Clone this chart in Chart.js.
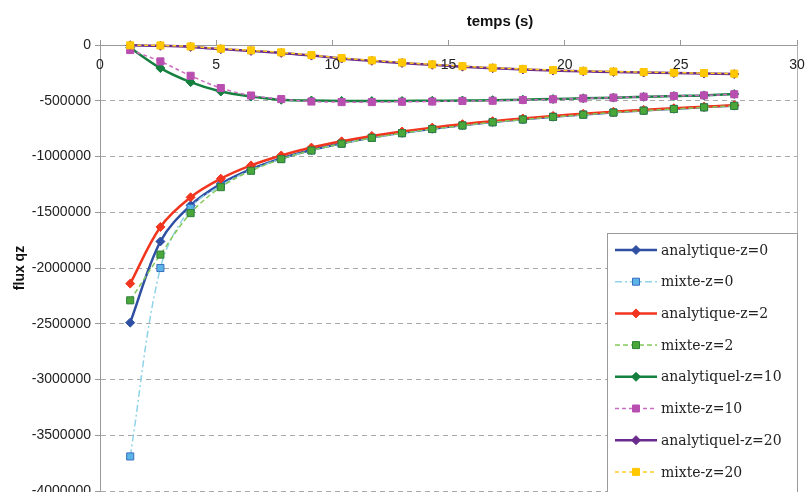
<!DOCTYPE html>
<html>
<head>
<meta charset="utf-8">
<script src="https://cdn.jsdelivr.net/npm/chart.js@4"></script>
<style>
  html, body { margin: 0; padding: 0; background: #fff; overflow: hidden; }
  #wrap { position: relative; width: 806px; height: 505px; }
</style>
</head>
<body>
<div id="wrap"><canvas id="fluxChart"></canvas></div>
<script>
// time values (s)
const temps = [1.3, 2.6, 3.9, 5.2, 6.5, 7.8, 9.1, 10.4, 11.7, 13, 14.3, 15.6, 16.9, 18.2, 19.5, 20.8, 22.1, 23.4, 24.7, 26, 27.3];

// flux qz per series
const analytiqueZ0 = [-2490000, -1762000, -1438000, -1246000, -1114000, -1017000, -941000, -881000, -830000, -788000, -751000, -719000, -691000, -666000, -643000, -623000, -604000, -587000, -572000, -557000, -544000];
const mixteZ0 = [-3690000, -2000000, -1462000, -1262000, -1122000, -1022000, -945000, -884000, -832000, -790000, -753000, -721000, -692000, -667000, -644000, -624000, -605000, -588000, -573000, -558000, -545000];
const analytiqueZ2 = [-2140000, -1632000, -1366000, -1199000, -1080000, -991000, -920000, -864000, -816000, -776000, -741000, -710000, -683000, -659000, -636000, -617000, -599000, -582000, -567000, -553000, -540000];
const mixteZ2 = [-2290000, -1880000, -1508000, -1275000, -1128000, -1024000, -946000, -885000, -833000, -791000, -754000, -722000, -693000, -668000, -645000, -625000, -606000, -589000, -574000, -559000, -546000];
const analytiqueZ10 = [-25000, -207000, -333000, -417000, -462000, -491000, -498000, -502000, -503000, -502000, -500000, -498000, -495000, -490000, -485000, -478000, -472000, -465000, -458000, -452000, -440000];
const mixteZ10 = [-45000, -147000, -276000, -386000, -453000, -485000, -507000, -512000, -512000, -509000, -507000, -502000, -500000, -493000, -487000, -479000, -472000, -464000, -457000, -452000, -442000];
const analytiqueZ20 = [-2000, -7000, -17000, -37000, -53000, -71000, -95000, -121000, -142000, -161000, -178000, -194000, -208000, -219000, -229000, -236000, -242000, -247000, -252000, -256000, -261000];
const mixteZ20 = [-3000, -4000, -13000, -33000, -48000, -66000, -90000, -117000, -138000, -157000, -174000, -190000, -204000, -215000, -225000, -232000, -238000, -243000, -248000, -252000, -257000];

// axis ranges
const fluxMin = -4000000;
const fluxMax = 0;
const fluxStep = 500000;
const tempsMin = 0;
const tempsMax = 30;
const tempsStep = 5;

const labels = ['analytique-z=0', 'mixte-z=0', 'analytique-z=2', 'mixte-z=2', 'analytiquel-z=10', 'mixte-z=10', 'analytiquel-z=20', 'mixte-z=20'];
const series = [analytiqueZ0, mixteZ0, analytiqueZ2, mixteZ2, analytiqueZ10, mixteZ10, analytiqueZ20, mixteZ20];

const styles = [
  { line: '#2f4fa3', bg: '#2f4fa3', border: '#2f4fa3', dash: [], width: 2.5, marker: 'diamond' },
  { line: '#8fd3e8', bg: '#5ab4e6', border: '#3a6cc0', dash: [7, 3, 2, 3], width: 1.5, marker: 'square' },
  { line: '#f2351f', bg: '#f2351f', border: '#f2351f', dash: [], width: 2.5, marker: 'diamond' },
  { line: '#86c95a', bg: '#4aa83a', border: '#2d7f3a', dash: [5, 3], width: 1.5, marker: 'square' },
  { line: '#15803f', bg: '#15803f', border: '#15803f', dash: [], width: 2.5, marker: 'diamond' },
  { line: '#cc6cc0', bg: '#b84fb0', border: '#b84fb0', dash: [4, 3], width: 1.5, marker: 'square' },
  { line: '#6a2c8c', bg: '#6a2c8c', border: '#6a2c8c', dash: [], width: 2.5, marker: 'diamond' },
  { line: '#ffcc22', bg: '#ffc800', border: '#ffc800', dash: [4, 3], width: 1.5, marker: 'square' }
];

const datasets = series.map((vals, i) => {
  const st = styles[i];
  return {
    label: labels[i],
    data: vals.map((v, k) => ({ x: temps[k], y: v })),
    borderColor: st.line,
    borderWidth: st.width,
    borderDash: st.dash,
    backgroundColor: st.bg,
    pointStyle: st.marker === 'diamond' ? 'rectRot' : 'rect',
    pointRadius: st.marker === 'diamond' ? 4.5 : 5,
    pointBackgroundColor: st.bg,
    pointBorderColor: st.border,
    pointBorderWidth: 1,
    tension: 0.35,
    clip: 10,
    order: series.length - i   // last series drawn on top, like the original
  };
});

function drawMarker(ctx, kind, x, y) {
  ctx.beginPath();
  if (kind === 'diamond') {
    ctx.moveTo(x, y - 4.5);
    ctx.lineTo(x + 4.5, y);
    ctx.lineTo(x, y + 4.5);
    ctx.lineTo(x - 4.5, y);
    ctx.closePath();
  } else {
    ctx.rect(x - 3.5, y - 3.5, 7, 7);
  }
  ctx.fill();
  ctx.stroke();
}

// x tick labels under the top axis, titles, right border and the boxed legend
const decorPlugin = {
  id: 'decor',
  afterDraw(chart) {
    const { ctx, chartArea } = chart;
    const xs = chart.scales.x;
    ctx.save();

    ctx.strokeStyle = '#b0b0b0';
    ctx.lineWidth = 1;
    ctx.setLineDash([]);
    ctx.beginPath();
    ctx.moveTo(Math.round(chartArea.right) + 0.5, chartArea.top);
    ctx.lineTo(Math.round(chartArea.right) + 0.5, chartArea.bottom);
    ctx.stroke();

    ctx.fillStyle = '#222';
    ctx.font = '14px "Liberation Sans", Arial, sans-serif';
    ctx.textAlign = 'center';
    ctx.textBaseline = 'middle';
    xs.ticks.forEach(t => {
      ctx.fillText(String(t.value), xs.getPixelForValue(t.value), chartArea.top + 20);
    });

    ctx.fillStyle = '#111';
    ctx.font = 'bold 15px "Liberation Sans", Arial, sans-serif';
    ctx.fillText('temps (s)', 500, 22);

    ctx.save();
    ctx.translate(20, 268);
    ctx.rotate(-Math.PI / 2);
    ctx.font = 'bold 14px "Liberation Sans", Arial, sans-serif';
    ctx.fillText('flux qz', 0, 0);
    ctx.restore();

    // legend box
    const bx = 607.5, by = 233.5, bw = 190, bh = 262;
    ctx.fillStyle = '#fff';
    ctx.fillRect(bx, by, bw, bh);
    ctx.strokeStyle = '#9a9a9a';
    ctx.strokeRect(bx, by, bw, bh);

    ctx.font = '14px "DejaVu Serif", serif';
    ctx.textAlign = 'left';
    chart.data.datasets.forEach((ds, i) => {
      const st = styles[i];
      const y = 250 + i * 31.7;
      ctx.strokeStyle = st.line;
      ctx.lineWidth = st.width;
      ctx.setLineDash(st.dash);
      ctx.beginPath();
      ctx.moveTo(615, y);
      ctx.lineTo(657, y);
      ctx.stroke();
      ctx.setLineDash([]);
      ctx.lineWidth = 1;
      ctx.fillStyle = st.bg;
      ctx.strokeStyle = st.border;
      drawMarker(ctx, st.marker, 636, y);
      ctx.fillStyle = '#222';
      ctx.fillText(ds.label, 661, y + 1);
    });

    ctx.restore();
  }
};

const tickFont = { family: '"Liberation Sans", Arial, sans-serif', size: 14 };

new Chart(document.getElementById('fluxChart'), {
  type: 'line',
  data: { datasets },
  options: {
    responsive: true,
    maintainAspectRatio: false,
    animation: false,
    layout: { padding: { top: 0, right: 9, bottom: 14, left: 0 } },
    plugins: {
      legend: { display: false },
      tooltip: { enabled: false }
    },
    scales: {
      x: {
        type: 'linear',
        position: 'top',
        min: tempsMin,
        max: tempsMax,
        ticks: { stepSize: tempsStep, display: false },
        grid: { drawOnChartArea: false, drawTicks: true, tickLength: 5, color: '#999' },
        border: { color: '#999' },
        afterFit(scale) { scale.height = 45; }
      },
      y: {
        min: fluxMin,
        max: fluxMax,
        ticks: { stepSize: fluxStep, padding: 4, color: '#222', font: tickFont, callback: v => String(v) },
        grid: { color: '#a8a8a8', tickColor: '#999', tickLength: 5, tickBorderDash: [] },
        border: { color: '#999', dash: [5, 4] },
        afterFit(scale) { scale.width = 100; }
      }
    }
  },
  plugins: [decorPlugin]
});
</script>
</body>
</html>
